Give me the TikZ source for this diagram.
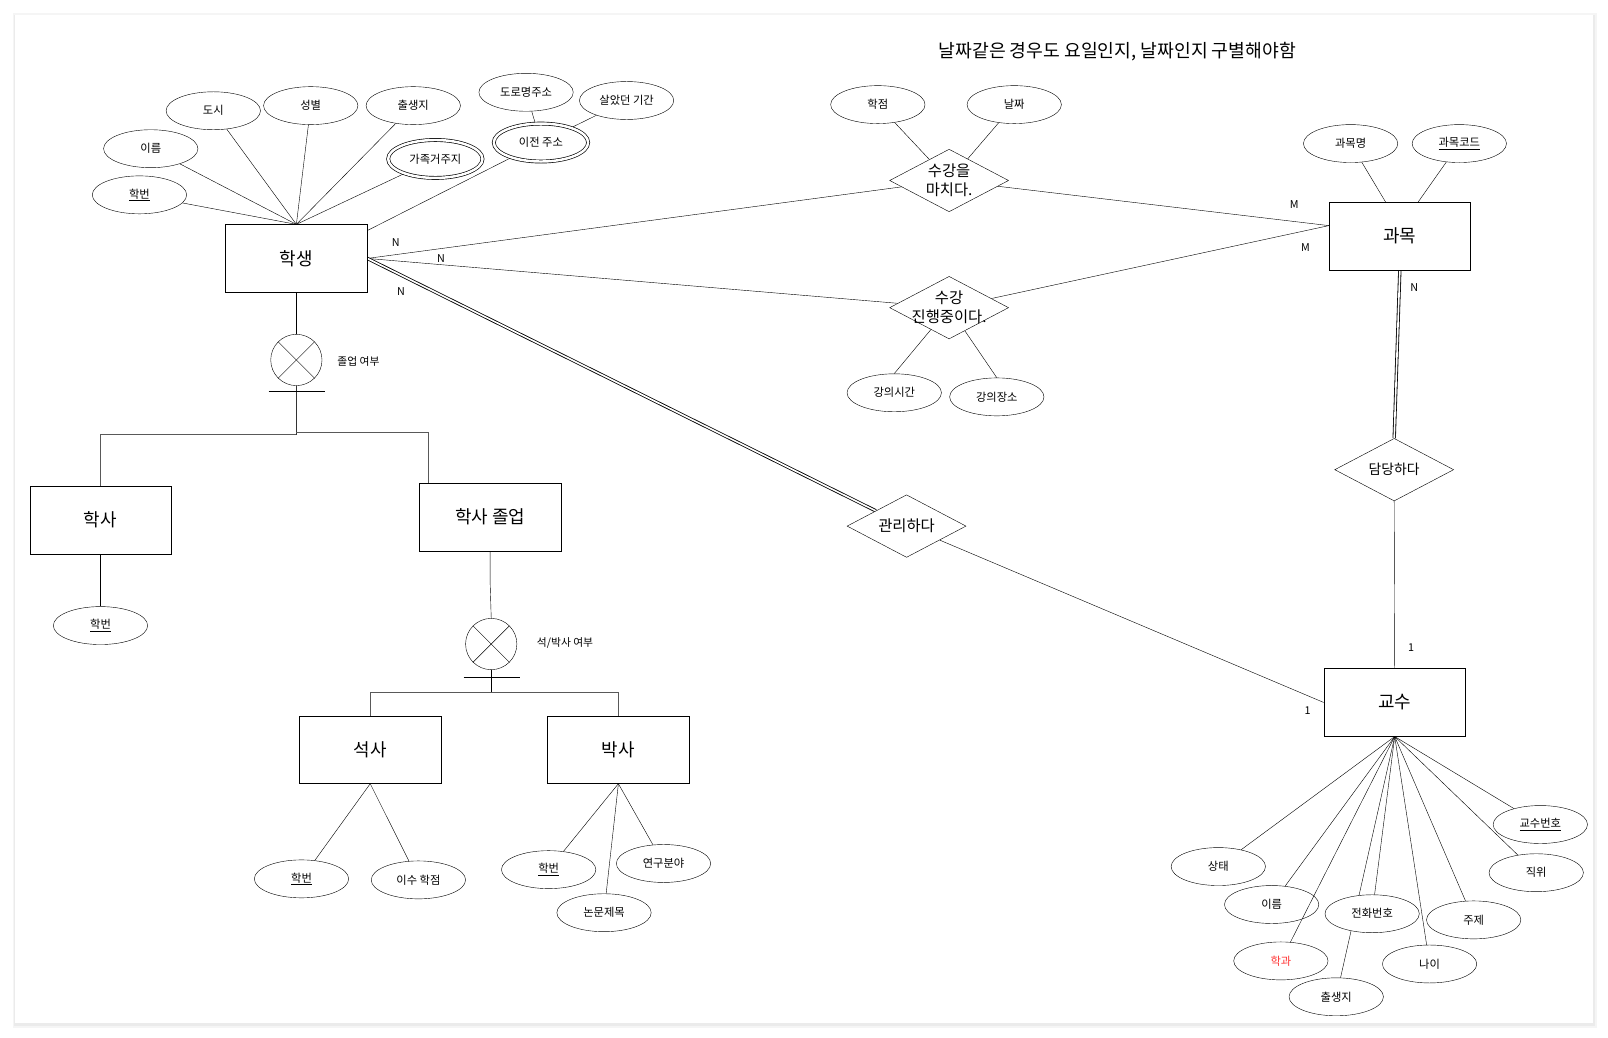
\documentclass[tikz,border=0pt]{standalone}
\usepackage{fontspec}
\setmainfont{Noto Sans CJK KR}
\usetikzlibrary{shapes.geometric,calc}
\pgfdeclarelayer{pagelayer}
\pgfdeclarelayer{edgelayer}
\pgfsetlayers{pagelayer,edgelayer,main}
\definecolor{redtxt}{HTML}{FF3333}
\begin{document}
\begin{tikzpicture}[x=1pt,y=-1pt, line width=1pt,
 ent/.style={draw, fill=white, rectangle, minimum width=138pt, minimum height=66pt, inner sep=0pt, font=\fontsize{17.5}{20}\selectfont},
 attr/.style={draw, fill=white, ellipse, minimum width=92pt, minimum height=37pt, inner sep=0pt, font=\fontsize{11}{13}\selectfont},
 mattr/.style={attr, double, double distance=2.4pt, line width=0.65pt},
 rel/.style={draw, fill=white, diamond, minimum width=116pt, minimum height=61pt, inner sep=0pt},
 reltext/.style={font=\fontsize{15}{18.5}\selectfont, align=center, inner sep=0pt},
 card/.style={font=\fontsize{10.5}{12}\selectfont, inner sep=0pt},
 speclabel/.style={font=\fontsize{10.5}{12}\selectfont, inner sep=0pt},
 disj/.style={draw, fill=white, circle, minimum size=50pt, inner sep=0pt},
 isa/.style={draw=black!65, line width=1.1pt},
 dbl/.style={double, double distance=1.6pt, line width=0.8pt},
]
\useasboundingbox (0,0) rectangle (1568,1012);
\begin{pgfonlayer}{pagelayer}
\fill[white] (0,0) rectangle (1568,1012);
\fill[black!4] (12.5,12.5) rectangle (1557,1002.5);
\fill[black!8] (13.8,14.5) rectangle (1555.2,1000.2);
\fill[white] (14.6,14.6) rectangle (1553,998);
\end{pgfonlayer}

% title
\node[font=\fontsize{17.8}{20}\selectfont, inner sep=0pt] (title) at (1089.5,50) {날짜같은 경우도 요일인지, 날짜인지 구별해야함};

% entities
\node[ent] (stu) at (289,252) {학생};
\node[ent] (bach) at (98,507) {학사};
\node[ent] (grad) at (478,504) {학사 졸업};
\node[ent] (mas) at (361,731) {석사};
\node[ent] (doc) at (603,731) {박사};
\node[ent] (subj) at (1365,230) {과목};
\node[ent] (prof) at (1360,685) {교수};

% student attributes
\node[attr] (s_hb) at (136,190) {\underline{학번}};
\node[attr] (s_name) at (147,145) {이름};
\node[attr] (s_city) at (208,108) {도시};
\node[attr] (s_sex) at (303,103) {성별};
\node[attr] (s_birth) at (403,103) {출생지};
\node[mattr] (s_fam) at (424.5,155) {가족거주지};
\node[mattr] (s_prev) at (527.5,139) {이전 주소};
\node[attr] (s_road) at (513,90) {도로명주소};
\node[attr] (s_per) at (611,98) {살았던 기간};

% relationships
\node[rel] (r1) at (925.5,176) {};
\node[reltext] (r1t) at (925.5,176) {수강을\\마치다.};
\node[rel] (r2) at (925.5,300) {};
\node[reltext, font=\fontsize{15}{19}\selectfont] (r2t) at (925.5,299.5) {수강\\진행중이다.};
\node[rel] (r3) at (884,513) {};
\node[reltext] (r3t) at (884,513) {관리하다};
\node[rel] (r4) at (1359.5,458) {};
\node[reltext, font=\fontsize{13.5}{16}\selectfont] (r4t) at (1359.5,458) {담당하다};

% relationship attributes
\node[attr] (r_gr) at (856,102) {학점};
\node[attr] (r_date) at (989,102) {날짜};
\node[attr] (r_time) at (872,383) {강의시간};
\node[attr] (r_place) at (972,387) {강의장소};

% subject attributes
\node[attr] (c_name) at (1317,140) {과목명};
\node[attr] (c_code) at (1423,140) {\underline{과목코드}};

% bachelor
\node[attr] (b_hb) at (98,610) {\underline{학번}};

% disjoint circles
\node[disj] (c1) at (289,351) {};
\node[speclabel] (l1) at (349.5,352) {졸업 여부};
\node[disj] (c2) at (479,628) {};
\node[speclabel] (l2) at (551,627) {석/박사 여부};

% master / doctor attributes
\node[attr] (m_hb) at (294,857) {\underline{학번}};
\node[attr] (m_cr) at (408,858) {이수 학점};
\node[attr] (d_hb) at (535,848) {\underline{학번}};
\node[attr] (d_th) at (589,890) {논문제목};
\node[attr] (d_rf) at (647,842) {연구분야};

% professor attributes
\node[attr] (p_st) at (1188,845) {상태};
\node[attr] (p_name) at (1240,882) {이름};
\node[attr, text=redtxt] (p_dep) at (1249,937) {학과};
\node[attr] (p_birth) at (1303,972) {출생지};
\node[attr] (p_tel) at (1338,891) {전화번호};
\node[attr] (p_age) at (1394,940) {나이};
\node[attr] (p_top) at (1437,897) {주제};
\node[attr] (p_pos) at (1498,851) {직위};
\node[attr] (p_no) at (1502,804) {\underline{교수번호}};

% cardinalities
\node[card] (k1) at (386,237) {N};
\node[card] (k2) at (430,252) {N};
\node[card] (k3) at (391,284) {N};
\node[card] (k4) at (1262,199) {M};
\node[card] (k5) at (1273,241) {M};
\node[card] (k6) at (1379,280) {N};
\node[card] (k7) at (1376,632) {1};
\node[card] (k8) at (1275,693) {1};

% coordinates
\coordinate (stuNE) at ($(stu.north east)+(0,6)$);
\coordinate (subjin) at ($(subj.west)+(0,-10)$);
\coordinate (j1) at (289,424);
\coordinate (j1b) at (289,422);
\coordinate (gradin) at ($(grad.north west)+(9,0)$);
\coordinate (j2) at (479,675);
\coordinate (bar1l) at (262,381);
\coordinate (bar1r) at (317,381);
\coordinate (bar2l) at (452,660);
\coordinate (bar2r) at (507,660);

\begin{pgfonlayer}{edgelayer}
% student attribute links
\foreach \a in {s_hb,s_name,s_city,s_sex,s_birth,s_fam} \draw (\a) -- (stu.north);
\draw (s_prev) -- (stuNE);
\draw (s_road) -- (s_prev);
\draw (s_per) -- (s_prev);
% relationships
\draw (stu.east) -- (r1);
\draw (r1) -- (subjin);
\draw (stu.east) -- (r2);
\draw (r2) -- (subjin);
\draw[dbl] (stu.east) -- (r3);
\draw (r3) -- (prof.west);
\draw[dbl] (subj.south) -- (r4.north);
\draw (r4.south) -- (prof.north);
% relationship attributes
\draw (r_gr) -- (r1);
\draw (r_date) -- (r1);
\draw (r_time.north) -- (r2);
\draw (r_place.north) -- (r2);
% subject attributes
\draw (c_name) -- ($(subj.north)+(-14,0)$);
\draw (c_code) -- ($(subj.north)+(18,0)$);
% specialization
\draw (stu.south) -- (c1.north);
\draw[line width=1.5pt, black!80] (c1.south) -- (j1);
\draw[isa] (j1) -| (bach.north);
\draw[isa] (j1b) -| (gradin);
\draw (grad.south) -- ++(0,33) -- (c2.north);
\draw (c2.south) -- (j2);
\draw[isa] (j2) -| (mas.north);
\draw[isa] (j2) -| (doc.north);
\draw (bach.south) -- (b_hb);
\draw (mas.south) -- (m_hb);
\draw (mas.south) -- (m_cr);
\draw (doc.south) -- (d_hb);
\draw (doc.south) -- (d_th);
\draw (doc.south) -- (d_rf);
% professor attributes
\foreach \a in {p_st,p_name,p_birth,p_tel,p_age,p_top,p_pos,p_no} \draw (prof.south) -- (\a);
\end{pgfonlayer}

\draw (prof.south) -- (p_dep);
\draw (c1.north west) -- (c1.south east);
\draw (c1.north east) -- (c1.south west);
\draw (c2.north west) -- (c2.south east);
\draw (c2.north east) -- (c2.south west);
\draw (bar1l) -- (bar1r);
\draw (bar2l) -- (bar2r);
\end{tikzpicture}
\end{document}
